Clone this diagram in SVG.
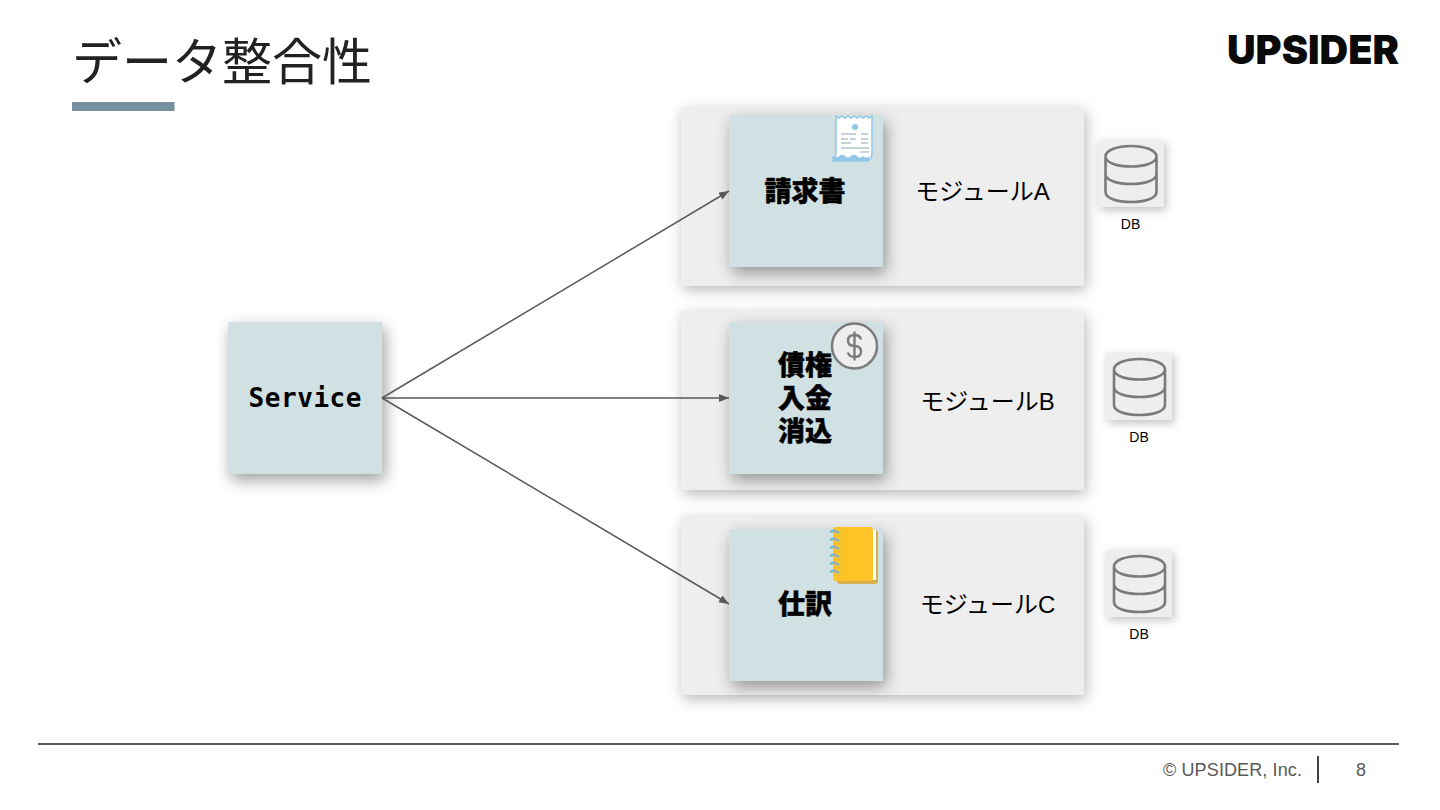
<svg xmlns="http://www.w3.org/2000/svg" width="1440" height="810" viewBox="0 0 1440 810">
<style>
.t{font-family:"Liberation Sans","Noto Sans CJK JP",sans-serif;fill:#000}
.h{font-family:"Noto Sans CJK JP",sans-serif;font-weight:900;font-size:27px;fill:#000;stroke:#000;stroke-width:.5px;text-anchor:middle}
.m{font-size:24px;text-anchor:middle}
.d{font-size:14px;text-anchor:middle}
.mod{fill:#eeeeee;filter:url(#sh)}
.box{fill:#d0e0e3;filter:url(#sh2)}
.dbb{fill:#eeeeee;filter:url(#sh3)}
.cyl{fill:none;stroke:#7b7b7b;stroke-width:2.600}
.c{stroke:#595959;stroke-width:1.500;fill:none;marker-end:url(#ar)}
</style>
<defs>
<filter id="sh" x="-10%" y="-15%" width="120%" height="135%"><feDropShadow dx="2" dy="4" stdDeviation="7" flood-color="#000" flood-opacity=".28"/></filter>
<filter id="sh2" x="-20%" y="-20%" width="140%" height="140%"><feDropShadow dx="3" dy="6" stdDeviation="8" flood-color="#000" flood-opacity=".38"/></filter>
<filter id="sh3" x="-20%" y="-20%" width="140%" height="140%"><feDropShadow dx="2" dy="3" stdDeviation="5" flood-color="#000" flood-opacity=".25"/></filter>
<marker id="ar" markerUnits="userSpaceOnUse" markerWidth="12" markerHeight="10" refX="10" refY="4" orient="auto"><path d="M0 0L10 4L0 8Z" fill="#595959"/></marker>
<g id="cy"><path class="cyl" d="M-25.500 -17.500C-25.500 -24 -13 -28 0 -28C13 -28 25.500 -24 25.500 -17.500C25.500 -11 13 -7.500 0 -7.500C-13 -7.500 -25.500 -11 -25.500 -17.500ZM-25.500 -17.500V18C-25.500 24.500 -13 28 0 28C13 28 25.500 24.500 25.500 18V-17.500M-25.500 0C-25.500 6.500 -13 10 0 10C13 10 25.500 6.500 25.500 0"/></g>
</defs>
<rect width="1440" height="810" fill="#fff"/>
<g id="header">
<text x="72" y="80" style="font-family:'Noto Sans CJK JP',sans-serif;font-size:50px;fill:#222" textLength="300" lengthAdjust="spacingAndGlyphs">データ整合性</text>
<rect x="72" y="102" width="102.500" height="9" fill="#76909f"/>
<text x="1227" y="64" textLength="172" lengthAdjust="spacingAndGlyphs" style="font-family:Inter,'Liberation Sans',sans-serif;font-weight:900;font-size:40px;fill:#0a0a0a">UPSIDER</text>
</g>
<g id="modA"><rect class="mod" x="681" y="107" width="403" height="179"/><text class="t m" x="982.500" y="200">モジュールA</text></g>
<g id="modB"><rect class="mod" x="681" y="311" width="403" height="179"/><text class="t m" x="987.500" y="410">モジュールB</text></g>
<g id="modC"><rect class="mod" x="681" y="516" width="403" height="179"/><text class="t m" x="987.500" y="613">モジュールC</text></g>
<g id="service"><rect class="box" x="228" y="322" width="154" height="152"/><text x="305" y="407" text-anchor="middle" textLength="113" style="font-family:'DejaVu Sans Mono','Liberation Mono',monospace;font-weight:700;font-size:26px;fill:#000">Service</text></g>
<g id="invoice"><rect class="box" x="729" y="115" width="154" height="152"/><text class="h" x="805" y="201" textLength="81">請求書</text>
<path d="M836 116l3 2 3-2 3 2 3-2 3 2 3-2 3 2 3-2 3 2 3-2 3 2 3-2V152q0 9 -6 9H832q4-1 4-9Z" fill="#fff" stroke="#8fc7e6" stroke-width="1.500"/>
<path d="M832 156q4 3 7 0t6 0 6 0 6 0 6 0q3 3 6 0v3q0 2-4 2H836q-4 0-4-5Z" fill="#8fc7e6"/>
<circle cx="855" cy="127" r="3" fill="#8fc7e6"/>
<path d="M841 134h15M861 134h7M841 139h7M850 139h6M861 139h7M841 143h10M861 143h7M841 148h28M860 152h9" stroke="#8aa6b5" stroke-width="1" fill="none"/>
</g>
<g id="credit"><rect class="box" x="729" y="322" width="154" height="152"/><text class="h" x="805" y="375" textLength="54">債権</text><text class="h" x="805" y="408" textLength="54">入金</text><text class="h" x="805" y="441" textLength="54">消込</text>
<circle cx="854.500" cy="346" r="22.500" fill="#eeeeee" stroke="#7b7b7b" stroke-width="2.500"/>
<path d="M861 339.500q-1-4.500-6.500-4.500-6.500 0-6.500 5.500t6.500 5.500 6.500 5.500-6.500 5.500q-5.500 0-6.500-4.500M854.500 331.500v29" fill="none" stroke="#7b7b7b" stroke-width="2.400"/>
</g>
<g id="journal"><rect class="box" x="729" y="529" width="154" height="152"/><text class="h" x="805" y="614" textLength="54">仕訳</text>
<rect x="837" y="530" width="41" height="54" rx="3" fill="#d5ae4e"/><rect x="870" y="530" width="6" height="50" fill="#fff"/>
<rect x="833" y="527" width="40" height="54" rx="3" fill="#ffc328"/>
<path d="M830 532q4-3 9 1M830 540q4-3 9 1M830 548q4-3 9 1M830 556q4-3 9 1M830 564q4-3 9 1M830 572q4-3 9 1" fill="none" stroke="#7fb6c6" stroke-width="2.500"/>
</g>
<g id="dbA"><rect class="dbb" x="1098" y="140" width="66" height="67"/><use href="#cy" x="1131" y="174"/><text class="t d" x="1130.500" y="229">DB</text></g>
<g id="dbB"><rect class="dbb" x="1106" y="353" width="66" height="67"/><use href="#cy" x="1139.500" y="387"/><text class="t d" x="1139" y="442">DB</text></g>
<g id="dbC"><rect class="dbb" x="1106" y="550" width="66" height="67"/><use href="#cy" x="1139.500" y="584"/><text class="t d" x="1139" y="639">DB</text></g>
<g id="connectors">
<path class="c" d="M382 398L729 191"/>
<path class="c" d="M382 398H729"/>
<path class="c" d="M382 398L729 604"/>
</g>
<g id="footer">
<rect x="38" y="743" width="1361" height="2" fill="#595959"/>
<text x="1163" y="776" textLength="139" style="font-family:'Liberation Sans',sans-serif;font-size:18px;fill:#595959">© UPSIDER, Inc.</text>
<rect x="1317" y="756" width="2" height="27" fill="#434343"/>
<text x="1361" y="776" text-anchor="middle" style="font-family:'Liberation Sans',sans-serif;font-size:18px;fill:#595959">8</text>
</g>
</svg>
